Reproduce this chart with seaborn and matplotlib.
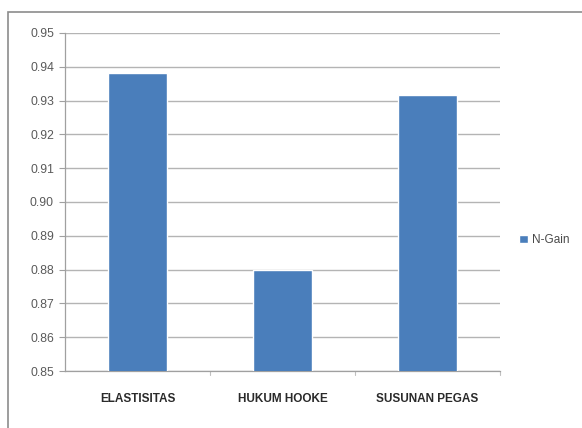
import matplotlib
matplotlib.use("Agg")
import matplotlib.pyplot as plt
import matplotlib.patches as mpatches
import seaborn as sns
import pandas as pd

categories = ["ELASTISITAS", "HUKUM HOOKE", "SUSUNAN PEGAS"]
n_gain = [0.9383, 0.8799, 0.9317]
y_ticks = [0.85, 0.86, 0.87, 0.88, 0.89, 0.90, 0.91, 0.92, 0.93, 0.94, 0.95]
series_name = "N-Gain"

df = pd.DataFrame({"Materi": categories, "Nilai": n_gain, "Seri": series_name})

sns.set_theme(style="white")
plt.rcParams["font.family"] = ["Liberation Sans Narrow", "Liberation Sans", "DejaVu Sans"]

fig = plt.figure(figsize=(5.82, 4.28), dpi=100)
ax = fig.add_axes([65 / 582, 1 - 371 / 428, 435 / 582, 338 / 428])

# outer chart frame
frame = mpatches.Rectangle((8 / 582, -0.05), 1.0, 1 - 12 / 428 + 0.05,
                           transform=fig.transFigure, fill=False,
                           edgecolor="#8c8c8c", linewidth=1.2, zorder=0)
fig.patches.append(frame)

sns.barplot(data=df, x="Materi", y="Nilai", hue="Seri", ax=ax,
            palette=["#4A7EBB"], width=0.41, saturation=1, zorder=3)

ax.set_ylim(0.85, 0.95)
ax.set_xlim(-0.5, 2.5)
ax.set_yticks(y_ticks)
ax.set_yticklabels([f"{v:.2f}" for v in y_ticks], color="#5a5a5a", fontsize=8.8)
ax.yaxis.grid(True, color="#b4b4b4", linewidth=1.0, zorder=0)
ax.set_axisbelow(True)
ax.set_xlabel("")
ax.set_ylabel("")

ax.set_xticks([0, 1, 2])
ax.set_xticklabels(categories, fontsize=8.5, fontweight="bold", color="#2a2a2a")
ax.tick_params(axis="x", length=0, pad=16)
ax.tick_params(axis="y", left=True, length=4, width=0.8, color="#a0a0a0", pad=4)
# small category separators on the x axis
for xs in [0.5, 1.5, 2.5]:
    ax.plot([xs, xs], [0.85, 0.8488], color="#c0c0c0", linewidth=0.8,
            clip_on=False, transform=ax.transData)

for side in ["top", "right"]:
    ax.spines[side].set_visible(False)
ax.spines["left"].set_color("#a0a0a0")
ax.spines["bottom"].set_color("#a0a0a0")
ax.spines["left"].set_linewidth(0.9)
ax.spines["bottom"].set_linewidth(0.9)

leg = ax.legend(loc="center left", bbox_to_anchor=(519 / 582, 1 - 240 / 428),
                bbox_transform=fig.transFigure, frameon=False, fontsize=8.5,
                handlelength=0.75, handleheight=0.75, handletextpad=0.35,
                borderaxespad=0, borderpad=0)
for t in leg.get_texts():
    t.set_color("#4a4a4a")

fig.savefig("out.png", dpi=100, facecolor="white")
